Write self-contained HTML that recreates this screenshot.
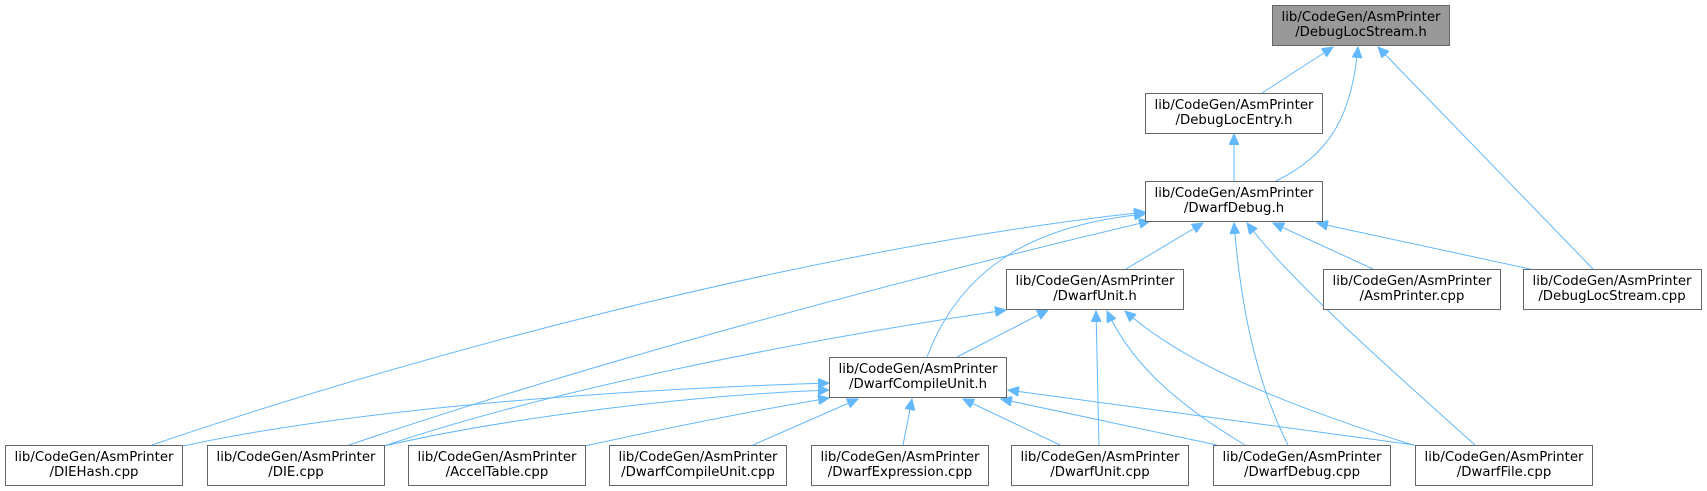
<!DOCTYPE html>
<html><head><meta charset="utf-8"><style>
html,body{margin:0;padding:0;background:#fff;}
svg{display:block;}
text{font-family:"DejaVu Sans","Liberation Sans",sans-serif;font-size:13.3px;fill:#000;text-anchor:middle;}
.n{fill:#fff;stroke:#666;stroke-width:1;}
.g{fill:#999;stroke:#666;stroke-width:1;}
.e{fill:none;stroke:#63b8ff;stroke-width:1;}
</style></head><body>
<svg width="1707" height="491" viewBox="0 0 1707 491" xmlns="http://www.w3.org/2000/svg">
<defs>
<marker id="a" markerWidth="12" markerHeight="10" refX="11" refY="5" orient="auto" markerUnits="userSpaceOnUse">
<path d="M0,0 L11,5 L0,10 Z" fill="#63b8ff" stroke="#63b8ff"/>
</marker>
</defs>

<path class="e" marker-end="url(#a)" d="M1262,93 L1333,47"/>
<path class="e" marker-end="url(#a)" d="M1276,181 C1330,155 1352,115 1358,47"/>
<path class="e" marker-end="url(#a)" d="M1593,269 L1378,47"/>
<path class="e" marker-end="url(#a)" d="M1234,181 L1234,134"/>
<path class="e" marker-end="url(#a)" d="M1126,269 L1203,223"/>
<path class="e" marker-end="url(#a)" d="M1373,269 L1273,223"/>
<path class="e" marker-end="url(#a)" d="M1530,269 L1317,223"/>
<path class="e" marker-end="url(#a)" d="M1288,445 C1255,380 1240,300 1234,223"/>
<path class="e" marker-end="url(#a)" d="M1475,445 C1380,360 1290,280 1247,223"/>
<path class="e" marker-end="url(#a)" d="M927,357 C960,270 1030,225 1145,214"/>
<path class="e" marker-end="url(#a)" d="M152,445 C400,360 800,250 1145,212"/>
<path class="e" marker-end="url(#a)" d="M349,445 C600,360 900,280 1150,221"/>

<path class="e" marker-end="url(#a)" d="M957,357 L1048,310"/>
<path class="e" marker-end="url(#a)" d="M384,446 C550,390 800,340 1006,310"/>
<path class="e" marker-end="url(#a)" d="M1099,445 L1096,311"/>
<path class="e" marker-end="url(#a)" d="M1245,445 C1170,400 1130,360 1107,311"/>
<path class="e" marker-end="url(#a)" d="M1413,445 C1270,400 1180,360 1125,311"/>

<path class="e" marker-end="url(#a)" d="M183,446 C350,410 600,390 829,383"/>
<path class="e" marker-end="url(#a)" d="M384,446 C520,415 700,395 829,390"/>
<path class="e" marker-end="url(#a)" d="M585,446 C680,425 770,408 829,398"/>
<path class="e" marker-end="url(#a)" d="M753,445 L858,399"/>
<path class="e" marker-end="url(#a)" d="M903,445 L912,399"/>
<path class="e" marker-end="url(#a)" d="M1060,445 L963,399"/>
<path class="e" marker-end="url(#a)" d="M1217,445 L1001,399"/>
<path class="e" marker-end="url(#a)" d="M1415,445 L1008,390"/>

<rect class="g" x="1272.5" y="5.5" width="177" height="40"/>
<text x="1361" y="21">lib/CodeGen/AsmPrinter</text><text x="1361" y="36">/DebugLocStream.h</text>

<rect class="n" x="1145.5" y="93.5" width="177" height="40"/>
<text x="1234" y="109">lib/CodeGen/AsmPrinter</text><text x="1234" y="124">/DebugLocEntry.h</text>

<rect class="n" x="1145.5" y="181.5" width="177" height="40"/>
<text x="1234" y="197">lib/CodeGen/AsmPrinter</text><text x="1234" y="212">/DwarfDebug.h</text>

<rect class="n" x="1006.5" y="269.5" width="177" height="40"/>
<text x="1095" y="285">lib/CodeGen/AsmPrinter</text><text x="1095" y="300">/DwarfUnit.h</text>

<rect class="n" x="1323.5" y="269.5" width="177" height="40"/>
<text x="1412" y="285">lib/CodeGen/AsmPrinter</text><text x="1412" y="300">/AsmPrinter.cpp</text>

<rect class="n" x="1523.5" y="269.5" width="178" height="40"/>
<text x="1612" y="285">lib/CodeGen/AsmPrinter</text><text x="1612" y="300">/DebugLocStream.cpp</text>

<rect class="n" x="829.5" y="357.5" width="177" height="40"/>
<text x="918" y="373">lib/CodeGen/AsmPrinter</text><text x="918" y="388">/DwarfCompileUnit.h</text>

<rect class="n" x="5.5" y="445.5" width="177" height="40"/>
<text x="94" y="461">lib/CodeGen/AsmPrinter</text><text x="94" y="476">/DIEHash.cpp</text>

<rect class="n" x="207.5" y="445.5" width="177" height="40"/>
<text x="296" y="461">lib/CodeGen/AsmPrinter</text><text x="296" y="476">/DIE.cpp</text>

<rect class="n" x="408.5" y="445.5" width="177" height="40"/>
<text x="497" y="461">lib/CodeGen/AsmPrinter</text><text x="497" y="476">/AccelTable.cpp</text>

<rect class="n" x="609.5" y="445.5" width="177" height="40"/>
<text x="698" y="461">lib/CodeGen/AsmPrinter</text><text x="698" y="476">/DwarfCompileUnit.cpp</text>

<rect class="n" x="811.5" y="445.5" width="177" height="40"/>
<text x="900" y="461">lib/CodeGen/AsmPrinter</text><text x="900" y="476">/DwarfExpression.cpp</text>

<rect class="n" x="1011.5" y="445.5" width="177" height="40"/>
<text x="1100" y="461">lib/CodeGen/AsmPrinter</text><text x="1100" y="476">/DwarfUnit.cpp</text>

<rect class="n" x="1213.5" y="445.5" width="177" height="40"/>
<text x="1302" y="461">lib/CodeGen/AsmPrinter</text><text x="1302" y="476">/DwarfDebug.cpp</text>

<rect class="n" x="1415.5" y="445.5" width="177" height="40"/>
<text x="1504" y="461">lib/CodeGen/AsmPrinter</text><text x="1504" y="476">/DwarfFile.cpp</text>
</svg>
</body></html>
